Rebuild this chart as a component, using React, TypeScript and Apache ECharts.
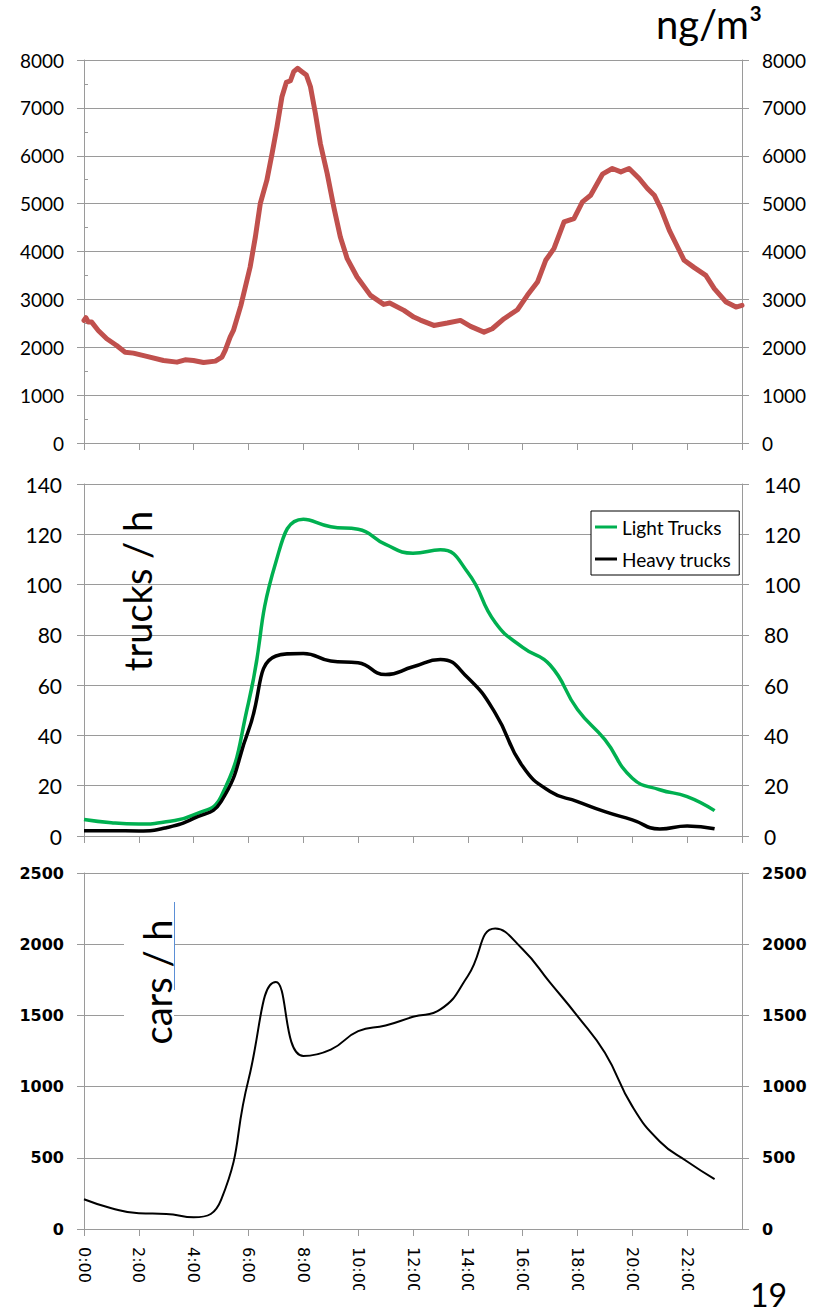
import React, { useEffect, useRef } from "react";
import * as echarts from "echarts";

// ---- Top panel: concentration (ng/m³), read at irregular hour positions
const PM_HOURS = [
  0, 0.07, 0.16, 0.28, 0.52, 0.83, 1.19, 1.5, 1.8, 2.29, 2.9, 3.39, 3.69, 3.99, 4.36, 4.79,
  5.03, 5.15, 5.33, 5.45, 5.72, 6.06, 6.25, 6.43, 6.67, 6.86, 7.04, 7.22, 7.38, 7.53, 7.65,
  7.79, 7.95, 8.11, 8.26, 8.44, 8.62, 8.87, 9.11, 9.35, 9.6, 9.96, 10.45, 10.93, 11.15, 11.67,
  12.03, 12.27, 12.76, 13.25, 13.73, 14.1, 14.59, 14.89, 15.32, 15.81, 16.17, 16.54, 16.84,
  17.14, 17.51, 17.87, 18.18, 18.48, 18.91, 19.27, 19.58, 19.88, 20.25, 20.55, 20.8, 21.04,
  21.35, 21.65, 21.89, 22.26, 22.68, 22.99, 23.42, 23.78, 24.0,
];
const PM_VALUES = [
  2561, 2617, 2525, 2525, 2351, 2177, 2037, 1897, 1877, 1808, 1724, 1689, 1738, 1724, 1682, 1710,
  1793, 1933, 2212, 2351, 2870, 3676, 4303, 5002, 5490, 6048, 6605, 7232, 7533, 7567, 7756,
  7826, 7756, 7686, 7441, 6885, 6257, 5630, 4931, 4303, 3851, 3467, 3084, 2895, 2923, 2770,
  2630, 2568, 2456, 2505, 2561, 2435, 2316, 2387, 2596, 2784, 3084, 3362, 3816,
  4061, 4617, 4688, 5036, 5176, 5615, 5734, 5663, 5734, 5525, 5316, 5176, 4897,
  4443, 4094, 3816, 3663, 3502, 3224, 2943, 2839, 2874,
];

// ---- Middle & bottom panels: hourly values
const HOURS = [0, 1, 2, 3, 4, 5, 6, 7, 8, 9, 10, 11, 12, 13, 14, 15, 16, 17, 18, 19, 20, 21, 22, 23];
const LIGHT_TRUCKS = [6.6, 5.3, 4.8, 5.7, 8.4, 15.7, 53, 109, 126, 123, 122, 116, 112.5, 113.8, 104.8, 84.9, 75, 68, 50.3, 38.3, 23, 18.4, 15.7, 10.1];
const HEAVY_TRUCKS = [2.1, 2.1, 2.0, 3.3, 7, 13.7, 42, 71.6, 72.6, 69.6, 68.9, 64.2, 67.3, 70.2, 62.9, 48.9, 27.7, 17.7, 13.7, 9.7, 6.4, 2.8, 4, 2.9];
const CARS = [209, 146, 110, 106, 82, 204, 1049, 1734, 1215, 1260, 1389, 1429, 1490, 1542, 1777, 2110, 1964, 1730, 1495, 1237, 861, 615, 474, 350];

const TIME_LABELS = ["0:00", "2:00", "4:00", "6:00", "8:00", "10:00", "12:00", "14:00", "16:00", "18:00", "20:00", "22:00"];

const SERIES_NAMES = ["Light Trucks", "Heavy trucks"];

const GRAY = "#9a9a9a";
const CAL = "Lato, 'Open Sans', sans-serif";
const VER = "'DejaVu Sans', Verdana, sans-serif";

function App() {
  const ref = useRef<HTMLDivElement>(null);

  useEffect(() => {
    if (!ref.current) return;
    const chart = echarts.init(ref.current, undefined, { renderer: "svg" });

    const plain = (v: number) => String(v);

    const xAxisFor = (gridIndex: number, withLabels: boolean) => ({
      type: "value",
      gridIndex,
      min: 0,
      max: 24,
      interval: 2,
      axisLine: { show: true, onZero: false, lineStyle: { color: GRAY, width: 1 } },
      axisTick: { show: true, length: 7, lineStyle: { color: GRAY } },
      splitLine: { show: false },
      axisLabel: withLabels
        ? {
            show: true,
            rotate: -90,
            margin: 18,
            showMaxLabel: false,
            color: "#000",
            fontFamily: VER,
            fontSize: 16,
            formatter: (v: number) => TIME_LABELS[Math.round(v / 2)] ?? "",
          }
        : { show: false },
    });

    const yAxisFor = (
      gridIndex: number,
      position: "left" | "right",
      max: number,
      interval: number,
      label: any,
      split: boolean
    ) => ({
      type: "value",
      gridIndex,
      position,
      min: 0,
      max,
      interval,
      axisLine: { show: true, lineStyle: { color: GRAY, width: 1 } },
      axisTick: { show: true, length: 7, lineStyle: { color: GRAY } },
      splitLine: { show: split, lineStyle: { color: GRAY, width: 1 } },
      axisLabel: { color: "#000", formatter: plain, ...label },
    });

    const topLbl = { fontFamily: CAL, fontSize: 19, margin: 20 };
    const midLbl = { fontFamily: CAL, fontSize: 21, margin: 22 };
    const botLbl = { fontFamily: VER, fontSize: 16, fontWeight: "bold", margin: 20 };

    const option: any = {
      animation: false,
      backgroundColor: "#fff",
      grid: [
        { left: 84, right: 75, top: 60, height: 383 },
        { left: 84, right: 75, top: 484, height: 352 },
        { left: 84, right: 75, top: 873, height: 356 },
      ],
      xAxis: [xAxisFor(0, false), xAxisFor(1, false), xAxisFor(2, true)],
      yAxis: [
        yAxisFor(0, "left", 8000, 1000, topLbl, true),
        yAxisFor(0, "right", 8000, 1000, topLbl, false),
        {
          type: "value",
          gridIndex: 0,
          position: "left",
          min: 0,
          max: 8000,
          interval: 500,
          axisLine: { show: false },
          axisTick: { show: true, inside: true, length: 4, lineStyle: { color: GRAY } },
          splitLine: { show: false },
          axisLabel: { show: false },
        },
        yAxisFor(1, "left", 140, 20, midLbl, true),
        yAxisFor(1, "right", 140, 20, midLbl, false),
        yAxisFor(2, "left", 2500, 500, botLbl, true),
        yAxisFor(2, "right", 2500, 500, botLbl, false),
      ],
      legend: {
        data: SERIES_NAMES.map((n) => ({ name: n })),
        orient: "vertical",
        left: 591,
        top: 511,
        icon: "rect",
        itemWidth: 22,
        itemHeight: 3,
        itemGap: 12,
        padding: [6, 8, 6, 4],
        backgroundColor: "#fff",
        borderColor: "#000",
        borderWidth: 1,
        textStyle: { fontFamily: CAL, fontSize: 19, color: "#000", lineHeight: 20 },
      },
      series: [
        {
          type: "line",
          name: "ng/m³",
          xAxisIndex: 0,
          yAxisIndex: 0,
          data: PM_HOURS.map((h, i) => [h, PM_VALUES[i]]),
          symbol: "none",
          lineStyle: { color: "#c0504d", width: 5, cap: "round", join: "round" },
          itemStyle: { color: "#c0504d" },
        },
        {
          type: "line",
          name: SERIES_NAMES[0],
          xAxisIndex: 1,
          yAxisIndex: 3,
          data: HOURS.map((h, i) => [h, LIGHT_TRUCKS[i]]),
          symbol: "none",
          smooth: 0.5,
          lineStyle: { color: "#00b050", width: 3.5 },
          itemStyle: { color: "#00b050" },
        },
        {
          type: "line",
          name: SERIES_NAMES[1],
          xAxisIndex: 1,
          yAxisIndex: 3,
          data: HOURS.map((h, i) => [h, HEAVY_TRUCKS[i]]),
          symbol: "none",
          smooth: 0.5,
          lineStyle: { color: "#000", width: 3.5 },
          itemStyle: { color: "#000" },
        },
        {
          type: "line",
          name: "cars",
          xAxisIndex: 2,
          yAxisIndex: 5,
          data: HOURS.map((h, i) => [h, CARS[i]]),
          symbol: "none",
          smooth: 0.5,
          lineStyle: { color: "#000", width: 2 },
          itemStyle: { color: "#000" },
        },
      ],
      graphic: [
        {
          type: "text",
          x: 656,
          y: 24,
          z: 10,
          style: {
            text: "ng/m³",
            font: `40px ${CAL}`,
            lineHeight: 40,
            fill: "#000",
            align: "left",
            verticalAlign: "middle",
          },
        },
        {
          type: "text",
          x: 137,
          y: 591,
          rotation: Math.PI / 2,
          z: 10,
          style: { text: "trucks / h", font: `38px ${CAL}`, fill: "#000", align: "center", verticalAlign: "middle" },
        },
        {
          type: "rect",
          z: 9,
          shape: { x: 124, y: 900, width: 50, height: 160 },
          style: { fill: "#fff" },
        },
        {
          type: "text",
          x: 157,
          y: 982,
          rotation: Math.PI / 2,
          z: 10,
          style: { text: "cars / h", font: `38px ${CAL}`, fill: "#000", align: "center", verticalAlign: "middle" },
        },
        {
          type: "line",
          z: 10,
          shape: { x1: 174.5, y1: 902, x2: 174.5, y2: 990 },
          style: { stroke: "#5b8fd6", lineWidth: 1 },
        },
        {
          type: "rect",
          z: 100,
          shape: { x: 0, y: 1290, width: 738, height: 26 },
          style: { fill: "#fff" },
        },
        {
          type: "text",
          x: 750,
          y: 1294,
          z: 101,
          style: {
            text: "19",
            font: `32px ${CAL}`,
            lineHeight: 30,
            fill: "#000",
            align: "left",
            verticalAlign: "middle",
          },
        },
      ],
    };

    chart.setOption(option);
    return () => chart.dispose();
  }, []);

  return (
    <div
      ref={ref}
      style={{ position: "fixed", left: 0, top: 0, width: 817, height: 1316, background: "#fff" }}
    />
  );
}

export default App;
